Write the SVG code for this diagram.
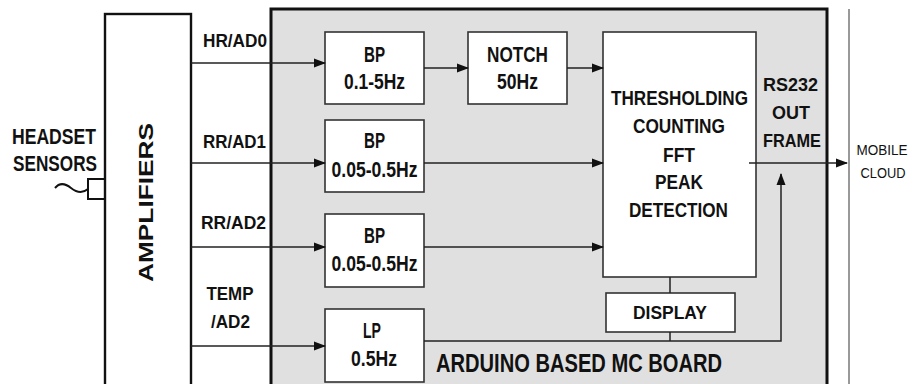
<svg xmlns="http://www.w3.org/2000/svg" width="915" height="384" viewBox="0 0 915 384">
<defs>
<marker id="ah" markerWidth="12" markerHeight="10" refX="11" refY="5" orient="auto" markerUnits="userSpaceOnUse">
<path d="M0,0.5 L12,5 L0,9.5 Z" fill="#111"/>
</marker>
<style>
text{font-family:"Liberation Sans",Arial,sans-serif;font-weight:bold;fill:#111;text-anchor:middle}
.box{fill:#fff;stroke:#333;stroke-width:1.6}
.ln{stroke:#222;stroke-width:1.5;fill:none}
.arr{stroke:#222;stroke-width:1.5;fill:none;marker-end:url(#ah)}
.f22{font-size:22px}
.f20{font-size:20px}
.f19{font-size:19px}
.reg{font-weight:normal;font-size:15px}
</style>
</defs>
<rect width="915" height="384" fill="#fff"/>

<g id="board">
<rect x="271" y="9" width="556" height="390" fill="#e0e0e0" stroke="none"/>
<path d="M271,400 V9 H827 V400" fill="none" stroke="#111" stroke-width="3"/>
<text class="f22" x="579" y="372" textLength="286" lengthAdjust="spacingAndGlyphs" style="font-size:25px">ARDUINO BASED MC BOARD</text>
</g>

<g id="cloud-line">
<line x1="849" y1="9" x2="849" y2="384" stroke="#777" stroke-width="1.5"/>
</g>

<g id="sensors">
<text class="f22" x="54" y="144" textLength="84" lengthAdjust="spacingAndGlyphs">HEADSET</text>
<text class="f22" x="55" y="171" textLength="84" lengthAdjust="spacingAndGlyphs">SENSORS</text>
<path d="M55,188 C60,182 66,184 71,188 C76,192 82,194 88,189" fill="none" stroke="#111" stroke-width="2"/>
<rect x="88" y="179" width="17" height="20" fill="#fff" stroke="#111" stroke-width="2"/>
</g>

<g id="amplifiers">
<rect x="105" y="14" width="86" height="390" fill="#fff" stroke="#111" stroke-width="2.4"/>
<text class="f22" transform="translate(153,202.5) rotate(-90)" x="0" y="0" textLength="159" lengthAdjust="spacingAndGlyphs" style="font-size:21px">AMPLIFIERS</text>
</g>

<g id="labels">
<text class="f19" x="235" y="47" textLength="64" lengthAdjust="spacingAndGlyphs">HR/AD0</text>
<text class="f19" x="234.5" y="148" textLength="63" lengthAdjust="spacingAndGlyphs">RR/AD1</text>
<text class="f19" x="233.5" y="229" textLength="65" lengthAdjust="spacingAndGlyphs">RR/AD2</text>
<text class="f19" x="230" y="300" textLength="47" lengthAdjust="spacingAndGlyphs">TEMP</text>
<text class="f19" x="230.5" y="328" textLength="39" lengthAdjust="spacingAndGlyphs">/AD2</text>
</g>

<g id="bp1">
<rect class="box" x="325" y="32" width="99" height="72"/>
<text class="f22" x="374.5" y="62" textLength="21" lengthAdjust="spacingAndGlyphs">BP</text>
<text class="f22" x="374.5" y="89" textLength="61" lengthAdjust="spacingAndGlyphs">0.1-5Hz</text>
</g>
<g id="notch">
<rect class="box" x="468" y="32" width="99" height="72"/>
<text class="f22" x="517.5" y="62" textLength="61" lengthAdjust="spacingAndGlyphs">NOTCH</text>
<text class="f22" x="517.5" y="89" textLength="41" lengthAdjust="spacingAndGlyphs">50Hz</text>
</g>
<g id="bp2">
<rect class="box" x="325" y="120" width="99" height="72"/>
<text class="f22" x="374.5" y="148" textLength="21" lengthAdjust="spacingAndGlyphs">BP</text>
<text class="f22" x="374.5" y="177" textLength="86" lengthAdjust="spacingAndGlyphs">0.05-0.5Hz</text>
</g>
<g id="bp3">
<rect class="box" x="325" y="214" width="99" height="73"/>
<text class="f22" x="374.5" y="243" textLength="21" lengthAdjust="spacingAndGlyphs">BP</text>
<text class="f22" x="374.5" y="271" textLength="86" lengthAdjust="spacingAndGlyphs">0.05-0.5Hz</text>
</g>
<g id="lp">
<rect class="box" x="325" y="309" width="99" height="73"/>
<text class="f22" x="372" y="338" textLength="18" lengthAdjust="spacingAndGlyphs">LP</text>
<text class="f22" x="374" y="366" textLength="46" lengthAdjust="spacingAndGlyphs">0.5Hz</text>
</g>

<g id="processing">
<rect class="box" x="603" y="32" width="153" height="245"/>
<text class="f20" x="679.5" y="105" textLength="137" lengthAdjust="spacingAndGlyphs">THRESHOLDING</text>
<text class="f20" x="679" y="133" textLength="92" lengthAdjust="spacingAndGlyphs">COUNTING</text>
<text class="f20" x="679" y="162" textLength="32" lengthAdjust="spacingAndGlyphs">FFT</text>
<text class="f20" x="679" y="189" textLength="48" lengthAdjust="spacingAndGlyphs">PEAK</text>
<text class="f20" x="678.5" y="217" textLength="99" lengthAdjust="spacingAndGlyphs">DETECTION</text>
</g>

<g id="display">
<rect class="box" x="606" y="293" width="129" height="39"/>
<text class="f19" x="670" y="319" textLength="74" lengthAdjust="spacingAndGlyphs">DISPLAY</text>
</g>

<g id="rs232">
<text class="f19" x="790.5" y="91" textLength="55" lengthAdjust="spacingAndGlyphs">RS232</text>
<text class="f19" x="791" y="119" textLength="38" lengthAdjust="spacingAndGlyphs">OUT</text>
<text class="f19" x="792" y="147" textLength="58" lengthAdjust="spacingAndGlyphs">FRAME</text>
</g>

<g id="mobile-cloud">
<text class="reg" x="882" y="155" textLength="51" lengthAdjust="spacingAndGlyphs">MOBILE</text>
<text class="reg" x="883" y="178" textLength="45" lengthAdjust="spacingAndGlyphs">CLOUD</text>
</g>

<g id="connectors">
<line class="arr" x1="191" y1="63" x2="325" y2="63"/>
<line class="arr" x1="424" y1="68" x2="468" y2="68"/>
<line class="arr" x1="567" y1="68" x2="603" y2="68"/>
<line class="arr" x1="191" y1="163" x2="325" y2="163"/>
<line class="arr" x1="424" y1="163" x2="603" y2="163"/>
<line class="arr" x1="191" y1="247" x2="325" y2="247"/>
<line class="arr" x1="424" y1="247" x2="603" y2="247"/>
<line class="arr" x1="191" y1="346" x2="325" y2="346"/>
<line class="ln" x1="670" y1="277" x2="670" y2="293"/>
<polyline class="arr" points="424,341 781,341 781,174"/>
<line class="ln" x1="670" y1="332" x2="670" y2="341"/>
<line class="arr" x1="749" y1="163" x2="847" y2="163"/>
</g>
</svg>
